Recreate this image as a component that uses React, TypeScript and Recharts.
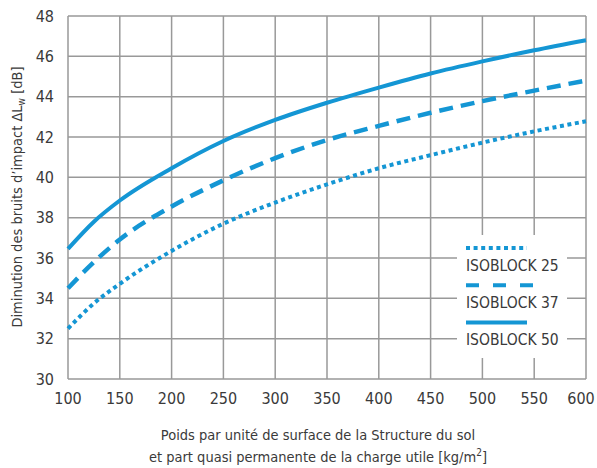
import { LineChart, Line, XAxis, YAxis, CartesianGrid, Legend } from 'recharts'

const weights = [100, 125, 150, 200, 250, 300, 350, 400, 450, 500, 550, 600]
const iso25 = [32.5, 33.75, 34.72, 36.35, 37.7, 38.75, 39.65, 40.45, 41.1, 41.72, 42.28, 42.78]
const iso37 = [34.5, 35.8, 36.92, 38.55, 39.85, 40.95, 41.85, 42.55, 43.2, 43.78, 44.3, 44.8]
const iso50 = [36.45, 37.8, 38.85, 40.45, 41.8, 42.85, 43.7, 44.45, 45.15, 45.75, 46.3, 46.8]

const xTicks = [100, 150, 200, 250, 300, 350, 400, 450, 500, 550, 600]
const yTicks = [30, 32, 34, 36, 38, 40, 42, 44, 46, 48]

const data = weights.map((w, i) => ({
  w,
  iso25: iso25[i],
  iso37: iso37[i],
  iso50: iso50[i],
}))

const BLUE = '#1496d4'
const TEXT = '#3a3a3a'
const FONT = "'DejaVu Sans Condensed', sans-serif"

const legendItems = [
  { name: 'ISOBLOCK 25', dash: '4 3.6', len: 61 },
  { name: 'ISOBLOCK 37', dash: '13 14', len: 67 },
  { name: 'ISOBLOCK 50', dash: undefined, len: 61 },
]

function LegendBox() {
  return (
    <svg width={110} height={123} style={{ background: '#fff', display: 'block' }}>
      {legendItems.map((it, i) => (
        <g key={it.name}>
          <line
            x1={9}
            x2={9 + it.len}
            y1={13 + i * 37.3}
            y2={13 + i * 37.3}
            stroke={BLUE}
            strokeWidth={4}
            strokeDasharray={it.dash}
          />
          <text x={9} y={35.7 + i * 37.3} fill={TEXT} fontSize={15.5} fontFamily={FONT}>
            {it.name}
          </text>
        </g>
      ))}
    </svg>
  )
}

function XTick(props: any) {
  const { x, y, payload } = props
  const isLast = payload.value === 600
  return (
    <text
      x={isLast ? x - 4 : x}
      y={y}
      dy="0.71em"
      textAnchor="middle"
      fill={TEXT}
      fontSize={16}
      fontFamily={FONT}
    >
      {payload.value}
    </text>
  )
}

function YLabel() {
  return (
    <text
      transform="rotate(-90, 17, 197)"
      x={17}
      y={197}
      textAnchor="middle"
      dominantBaseline="central"
      fill={TEXT}
      fontSize={14.5}
      fontFamily={FONT}
    >
      Diminution des bruits d’impact ΔL
      <tspan fontSize={10} dy={4}>w</tspan>
      <tspan dy={-4}> [dB]</tspan>
    </text>
  )
}

function XLabel() {
  return (
    <text textAnchor="middle" fill={TEXT} fontSize={14.5} fontFamily={FONT}>
      <tspan x={318} y={440}>Poids par unité de surface de la Structure du sol</tspan>
      <tspan x={318} y={462}>et part quasi permanente de la charge utile [kg/m</tspan>
      <tspan fontSize={10} dy={-6}>2</tspan>
      <tspan dy={6}>]</tspan>
    </text>
  )
}

export default function App() {
  return (
    <div style={{ position: 'absolute', left: 0, top: 0, background: '#fff' }}>
      <LineChart
        width={597}
        height={468}
        data={data}
        margin={{ top: 16, right: 11, left: 0, bottom: 59 }}
      >
        <CartesianGrid stroke="#999" strokeWidth={1.5} />
        <XAxis
          dataKey="w"
          type="number"
          domain={[100, 600]}
          ticks={xTicks}
          height={30}
          axisLine={false}
          tickLine={false}
          tickMargin={8}
          tick={XTick}
          label={{ content: XLabel }}
        />
        <YAxis
          type="number"
          domain={[30, 48]}
          ticks={yTicks}
          width={68}
          axisLine={false}
          tickLine={false}
          tickMargin={8}
          tick={{ fill: TEXT, fontSize: 16, fontFamily: FONT }}
          label={{ content: YLabel }}
        />
        <Legend
          layout="vertical"
          align="center"
          verticalAlign="middle"
          wrapperStyle={{ left: 457, top: 235, width: 110, height: 123 }}
          content={LegendBox}
        />
        <Line
          dataKey="iso25"
          name="ISOBLOCK 25"
          type="monotone"
          stroke={BLUE}
          strokeWidth={4}
          strokeDasharray="4 3.6"
          dot={false}
          isAnimationActive={false}
        />
        <Line
          dataKey="iso37"
          name="ISOBLOCK 37"
          type="monotone"
          stroke={BLUE}
          strokeWidth={4.5}
          strokeDasharray="14 8"
          dot={false}
          isAnimationActive={false}
        />
        <Line
          dataKey="iso50"
          name="ISOBLOCK 50"
          type="monotone"
          stroke={BLUE}
          strokeWidth={4}
          dot={false}
          isAnimationActive={false}
        />
      </LineChart>
    </div>
  )
}
